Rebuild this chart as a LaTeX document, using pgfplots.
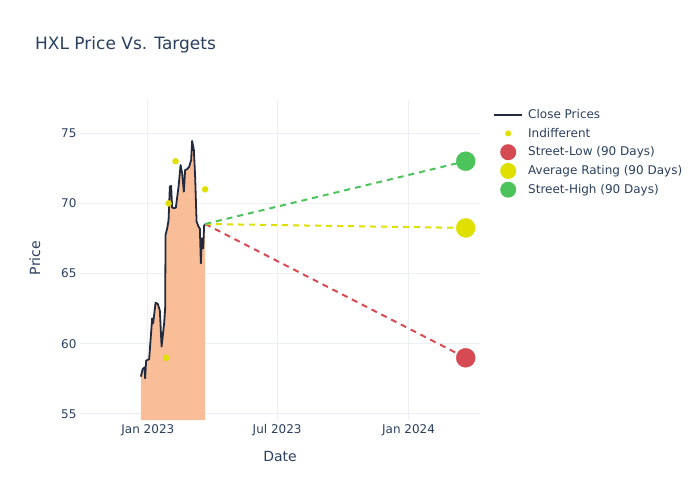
\documentclass[border=0pt]{standalone}
\usepackage{pgfplots}
\pgfplotsset{compat=1.18}
\usepackage{fontspec}
\setmainfont{DejaVu Sans}

\definecolor{txt}{HTML}{2A3F5F}
\definecolor{gridc}{HTML}{EBF0F8}
\definecolor{pricec}{HTML}{222A40}
\definecolor{areac}{HTML}{F9BD97}
\definecolor{indc}{HTML}{E0E000}
\definecolor{lowc}{HTML}{D64B53}
\definecolor{avgc}{HTML}{E0E000}
\definecolor{highc}{HTML}{4DC35C}

\begin{document}
\begin{tikzpicture}[x=1pt,y=1pt]
% page is 700 x 500, axis box lower-left at (0,0)
\path[use as bounding box] (-80,-80) rectangle (620,420);

% title and axis titles
\node[anchor=base west, text=txt, font=\fontsize{17}{20}\selectfont, inner sep=0pt] at (-45,370) {HXL Price Vs. Targets};
\node[text=txt, font=\fontsize{14}{16}\selectfont, rotate=90] at (-45,162) {Price};
\node[text=txt, font=\fontsize{14}{16}\selectfont] at (200,-36) {Date};

\begin{axis}[
    scale only axis,
    width=400pt, height=320pt,
    xmin=-95, xmax=465,
    ymin=54.57, ymax=77.36,
    axis line style={draw=none},
    major tick style={draw=none},
    xmajorgrids=true, ymajorgrids=true,
    grid style={gridc, line width=1pt},
    xtick={0,181,365},
    xticklabels={Jan 2023, Jul 2023, Jan 2024},
    ytick={55,60,65,70,75},
    /pgf/number format/assume math mode=true,
    tick label style={text=txt, font=\fontsize{12}{14}\selectfont},
    xticklabel style={yshift=-1pt},
    clip mode=individual,
    legend style={at={(1.0325,0.984)}, anchor=north west, draw=none, fill=none,
        text=txt, font=\fontsize{12}{14}\selectfont,
        row sep=0pt, inner sep=0pt,
        nodes={inner xsep=3pt, inner ysep=0pt, minimum height=18.75pt}},
    legend cell align=left,
]

% area under close prices
\addplot[draw=none, fill=areac, forget plot] coordinates {
    (-9.8,57.66) (-7.4,58.18) (-4.6,58.33) (-3.8,57.54) (-2.4,58.80)
    (1.8,58.90) (4.2,60.56) (6.0,61.80) (7.4,61.46) (10.8,62.93)
    (14.0,62.83) (16.8,62.36) (19.2,59.80) (22.8,61.46) (24.2,62.50)
    (24.8,67.75) (27.0,68.20) (29.0,68.80) (30.8,71.20) (32.6,71.24)
    (34.0,69.70) (36.8,69.65) (39.2,69.70) (43.0,71.20) (45.8,72.73)
    (48.0,72.14) (50.4,70.83) (52.2,72.38) (55.0,72.43) (57.8,72.60)
    (60.6,73.09) (62.0,74.44) (64.4,73.80) (66.2,71.90) (68.2,68.70)
    (71.0,68.34) (72.8,68.20) (74.2,65.73) (75.6,67.50) (77.4,66.80)
    (78.8,68.40) (80.2,68.53)
} \closedcycle;

% close prices
\addplot[pricec, line width=1.8pt, line join=round, mark=none,
    legend image code/.code={\draw[pricec, line width=2pt] (0pt,0pt) -- (28pt,0pt); \path[draw=none] (0pt,0pt) -- (31pt,0pt);}]
coordinates {
    (-9.8,57.66) (-7.4,58.18) (-4.6,58.33) (-3.8,57.54) (-2.4,58.80)
    (1.8,58.90) (4.2,60.56) (6.0,61.80) (7.4,61.46) (10.8,62.93)
    (14.0,62.83) (16.8,62.36) (19.2,59.80) (22.8,61.46) (24.2,62.50)
    (24.8,67.75) (27.0,68.20) (29.0,68.80) (30.8,71.20) (32.6,71.24)
    (34.0,69.70) (36.8,69.65) (39.2,69.70) (43.0,71.20) (45.8,72.73)
    (48.0,72.14) (50.4,70.83) (52.2,72.38) (55.0,72.43) (57.8,72.60)
    (60.6,73.09) (62.0,74.44) (64.4,73.80) (66.2,71.90) (68.2,68.70)
    (71.0,68.34) (72.8,68.20) (74.2,65.73) (75.6,67.50) (77.4,66.80)
    (78.8,68.40) (80.2,68.53)
};
\addlegendentry{Close Prices}

% analyst ratings
\addplot[indc, only marks, mark=*, mark size=3pt,
    legend image code/.code={\path[draw=none] (0pt,0pt) -- (31pt,0pt); \path[draw=none, fill=indc] (14pt,0pt) circle (3pt);}]
coordinates {(25.6,59.0) (29.0,70.0) (38.8,73.0) (80.2,71.0)};
\addlegendentry{Indifferent}

% target lines
\addplot[lowc, line width=2pt, dash pattern=on 6pt off 5pt, forget plot] coordinates {(80.2,68.53) (445,59.0)};
\addplot[avgc, line width=2pt, dash pattern=on 6pt off 5pt, forget plot] coordinates {(80.2,68.53) (445,68.25)};
\addplot[highc, line width=2pt, dash pattern=on 6pt off 5pt, forget plot] coordinates {(80.2,68.53) (445,73.0)};

% targets
\addplot[lowc, only marks, mark=*, mark size=9.5pt,
    legend image code/.code={\path[draw=none] (0pt,0pt) -- (31pt,0pt); \path[draw=none, fill=lowc] (14pt,0pt) circle (8pt);}]
coordinates {(445,59.0)};
\addlegendentry{Street-Low (90 Days)}
\addplot[avgc, only marks, mark=*, mark size=9.5pt,
    legend image code/.code={\path[draw=none] (0pt,0pt) -- (31pt,0pt); \path[draw=none, fill=avgc] (14pt,0pt) circle (8pt);}]
coordinates {(445,68.25)};
\addlegendentry{Average Rating (90 Days)}
\addplot[highc, only marks, mark=*, mark size=9.5pt,
    legend image code/.code={\path[draw=none] (0pt,0pt) -- (31pt,0pt); \path[draw=none, fill=highc] (14pt,0pt) circle (8pt);}]
coordinates {(445,73.0)};
\addlegendentry{Street-High (90 Days)}

\end{axis}
\end{tikzpicture}
\end{document}
